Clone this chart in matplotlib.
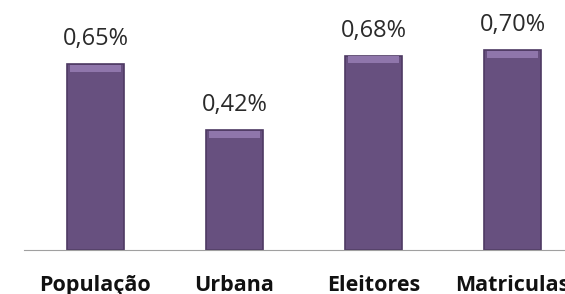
import numpy as np
import matplotlib.pyplot as plt

categories = ['População', 'Urbana', 'Eleitores', 'Matriculas']
values = [0.65, 0.42, 0.68, 0.70]
labels = ['0,65%', '0,42%', '0,68%', '0,70%']

fig = plt.figure(figsize=(5.65, 2.94), dpi=100)
ax = fig.add_axes([24 / 565, 44 / 294, 541 / 565, 250 / 294])

x = np.arange(len(categories))
ax.bar(x, values, width=0.41, color='#67507f', edgecolor='#4e3a63', linewidth=1.2)
# lighter band on top of each bar to hint the bevel
ax.bar(x, [0.025] * len(values), bottom=np.array(values) - 0.027, width=0.37,
       color='#8f76ab', linewidth=0)

for xi, v, lab in zip(x, values, labels):
    ax.text(xi, v + 0.066, lab, ha='center', va='baseline', fontsize=17,
            family='Open Sans', color='#2a2a2a')

ax.set_xlim(-0.514, 3.378)
ax.set_ylim(0, 0.875)
ax.set_xticks(x)
ax.set_xticklabels(categories, fontsize=15.5, fontweight='bold', family='Open Sans',
                   va='baseline', color='#111111')
ax.tick_params(axis='x', length=0, pad=29.5)
ax.set_yticks([])
for s in ['top', 'right', 'left']:
    ax.spines[s].set_visible(False)
ax.spines['bottom'].set_color('#a0a0a0')

fig.savefig('out.png', dpi=100)
